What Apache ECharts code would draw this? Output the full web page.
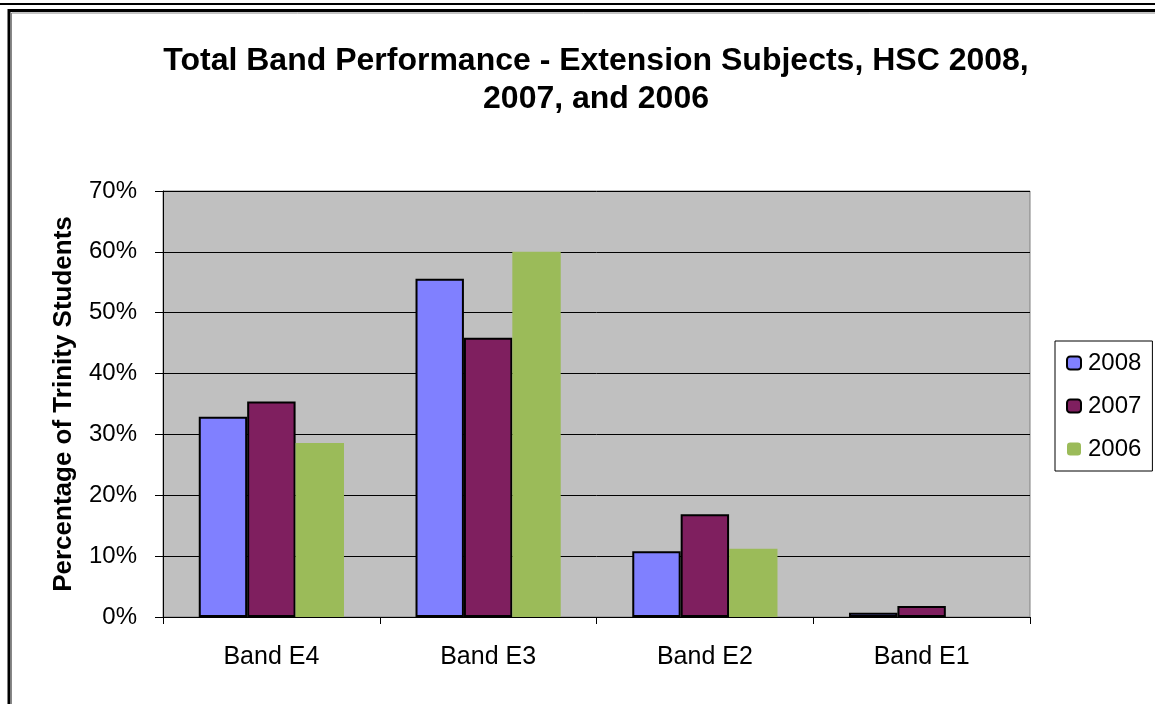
<!DOCTYPE html>
<html>
<head>
<meta charset="utf-8">
<script src="https://cdn.jsdelivr.net/npm/echarts@6/dist/echarts.min.js"></script>
<style>
html,body{margin:0;padding:0;background:#fff;}
#chart{width:1155px;height:704px;}
</style>
</head>
<body>
<div id="chart"></div>
<script>
const categories = ['Band E4', 'Band E3', 'Band E2', 'Band E1'];
const seriesNames = ['2008', '2007', '2006'];
const values2008 = [32.9, 55.6, 10.8, 0.7];
const values2007 = [35.4, 45.9, 16.9, 1.8];
const values2006 = [28.6, 60.0, 11.2, 0];
const yTicks = [0, 10, 20, 30, 40, 50, 60, 70];

const colors = ['#8080FF', '#7F1F5F', '#9BBB59'];
const font = '"Liberation Sans", Arial, sans-serif';
const chart = echarts.init(document.getElementById('chart'), null, {renderer: 'canvas'});
const allValues = [values2008, values2007, values2006];

chart.setOption({
  animation: false,
  backgroundColor: '#ffffff',
  title: {
    text: 'Total Band Performance - Extension Subjects, HSC 2008,\n2007, and 2006',
    left: 591, top: 37, textAlign: 'center',
    textStyle: {fontFamily: font, fontSize: 32, fontWeight: 'bold', color: '#000', lineHeight: 38}
  },
  graphic: [
    {type: 'rect', shape: {x: -20, y: -20, width: 1300, height: 24}, style: {fill: 'none', stroke: '#000', lineWidth: 2}, silent: true},
    {type: 'rect', shape: {x: 9, y: 10.5, width: 1300, height: 800}, style: {fill: 'none', stroke: '#000', lineWidth: 3}, silent: true},
    {type: 'rect', shape: {x: 11.5, y: 13, width: 1300, height: 800}, style: {fill: 'none', stroke: '#888', lineWidth: 1}, silent: true}
  ],
  legend: {
    data: seriesNames,
    orient: 'vertical',
    left: 1055, top: 341,
    padding: [10, 11, 10, 11],
    itemGap: 19,
    itemWidth: 14, itemHeight: 13,
    borderColor: '#000', borderWidth: 1,
    textStyle: {fontFamily: font, fontSize: 24, color: '#000', padding: [0, 0, 0, 2]}
  },
  grid: {
    left: 163, right: 125, top: 191, bottom: 87,
    show: true, backgroundColor: '#C0C0C0', borderColor: '#808080', borderWidth: 1
  },
  xAxis: {
    type: 'category',
    data: categories,
    axisLine: {lineStyle: {color: '#000', width: 1}},
    axisTick: {show: true, alignWithLabel: false, length: 7, lineStyle: {color: '#000'}},
    axisLabel: {fontFamily: font, fontSize: 25, color: '#000', margin: 28}
  },
  yAxis: {
    type: 'value',
    min: yTicks[0], max: yTicks[yTicks.length - 1], interval: 10,
    name: 'Percentage of Trinity Students',
    nameLocation: 'middle',
    nameGap: 86,
    nameTextStyle: {fontFamily: font, fontSize: 26, fontWeight: 'bold', color: '#000'},
    axisLine: {show: true, lineStyle: {color: '#000', width: 1}},
    axisTick: {show: true, length: 8, lineStyle: {color: '#000'}},
    axisLabel: {fontFamily: font, fontSize: 24, color: '#000', margin: 26, formatter: '{value}%'},
    splitLine: {show: true, lineStyle: {color: '#000', width: 1}}
  },
  series: seriesNames.map((name, i) => ({
    name: name,
    type: 'bar',
    data: allValues[i],
    barGap: '0%',
    barCategoryGap: '33%',
    itemStyle: {
      color: colors[i],
      borderColor: i < 2 ? '#000' : colors[i],
      borderWidth: i < 2 ? 2 : 0
    }
  }))
});
</script>
</body>
</html>
